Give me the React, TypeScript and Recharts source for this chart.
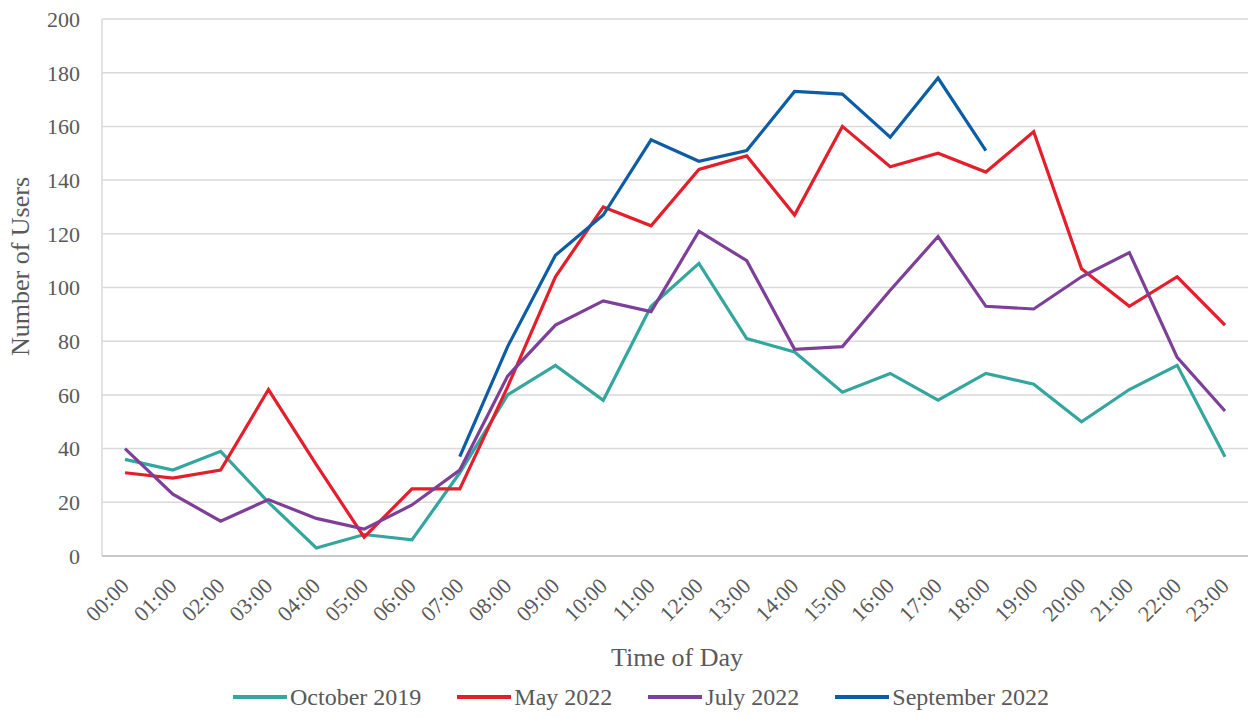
import React from "react";
import { LineChart, Line, XAxis, YAxis, CartesianGrid, Legend } from "recharts";

const hours = [
  "00:00", "01:00", "02:00", "03:00", "04:00", "05:00", "06:00", "07:00",
  "08:00", "09:00", "10:00", "11:00", "12:00", "13:00", "14:00", "15:00",
  "16:00", "17:00", "18:00", "19:00", "20:00", "21:00", "22:00", "23:00",
];

const october2019 = [36, 32, 39, 20, 3, 8, 6, 31, 60, 71, 58, 93, 109, 81, 76, 61, 68, 58, 68, 64, 50, 62, 71, 37];
const may2022 = [31, 29, 32, 62, 34, 7, 25, 25, 63, 104, 130, 123, 144, 149, 127, 160, 145, 150, 143, 158, 107, 93, 104, 86];
const july2022 = [40, 23, 13, 21, 14, 10, 19, 32, 67, 86, 95, 91, 121, 110, 77, 78, 99, 119, 93, 92, 104, 113, 74, 54];
const september2022: (number | null)[] = [
  null, null, null, null, null, null, null, 37, 78, 112, 127, 155, 147, 151, 173, 172, 156, 178, 151,
  null, null, null, null, null,
];

const yTicks = [0, 20, 40, 60, 80, 100, 120, 140, 160, 180, 200];

const series = [
  { key: "oct19", name: "October 2019", color: "#33a69e" },
  { key: "may22", name: "May 2022", color: "#e41e2b" },
  { key: "jul22", name: "July 2022", color: "#7e3f98" },
  { key: "sep22", name: "September 2022", color: "#0c5da5" },
];

const data = hours.map((h, i) => ({
  hour: h,
  oct19: october2019[i],
  may22: may2022[i],
  jul22: july2022[i],
  sep22: september2022[i],
}));

const font = '"Liberation Serif", "Times New Roman", serif';
const textColor = "#595959";

const HourTick = (props: any) => {
  const { x, y, payload } = props;
  return (
    <g transform={`translate(${x},${y + 18})`}>
      <text
        x={0}
        y={0}
        transform="rotate(-45)"
        textAnchor="end"
        dominantBaseline="central"
        fill={textColor}
        fontSize={22}
        fontFamily={font}
      >
        {payload.value}
      </text>
    </g>
  );
};

const LegendRow = () => (
  <div
    style={{
      display: "flex",
      justifyContent: "flex-start",
      alignItems: "center",
      gap: 36,
      height: 26,
      fontFamily: font,
      fontSize: 24,
      color: textColor,
      paddingLeft: 233,
    }}
  >
    {series.map((s) => (
      <div key={s.key} style={{ display: "flex", alignItems: "center" }}>
        <span
          style={{
            display: "inline-block",
            width: 54,
            height: 4,
            background: s.color,
            marginRight: 3,
          }}
        />
        {s.name}
      </div>
    ))}
  </div>
);

const YTitle = (props: any) => {
  const cy = props.viewBox ? props.viewBox.y + props.viewBox.height / 2 - 21 : 266;
  return (
    <text
      x={20}
      y={cy}
      transform={`rotate(-90, 20, ${cy})`}
      textAnchor="middle"
      dominantBaseline="central"
      fill={textColor}
      fontSize={26}
      fontFamily={font}
    >
      Number of Users
    </text>
  );
};

const XTitle = (props: any) => {
  const vb = props.viewBox || { x: 102, y: 556, width: 1146 };
  const cx = vb.x + vb.width / 2 + 2;
  return (
    <text
      x={cx}
      y={vb.y + 101}
      textAnchor="middle"
      dominantBaseline="central"
      fill={textColor}
      fontSize={26}
      fontFamily={font}
    >
      Time of Day
    </text>
  );
};

export default function App() {
  return (
    <div style={{ position: "absolute", left: 0, top: 0, width: 1253, height: 718, background: "#fff" }}>
      <LineChart width={1253} height={718} data={data} margin={{ top: 19, right: 5, left: 0, bottom: 0 }}>
        <CartesianGrid vertical={false} stroke="#d9d9d9" strokeWidth={1.5} />
        <XAxis
          dataKey="hour"
          interval={0}
          height={162}
          padding={{ left: 23, right: 23 }}
          tick={<HourTick />}
          tickLine={false}
          axisLine={{ stroke: "#bfbfbf", strokeWidth: 1.5 }}
          label={<XTitle />}
        />
        <YAxis
          width={102}
          domain={[0, 200]}
          ticks={yTicks}
          interval={0}
          tickLine={false}
          axisLine={{ stroke: "#d9d9d9", strokeWidth: 1.5 }}
          tick={{ fill: textColor, fontSize: 22, fontFamily: font, dx: -14 }}
          label={<YTitle />}
        />
        <Legend
          content={<LegendRow />}
          wrapperStyle={{ position: "absolute", left: 0, top: 684, width: 1253, height: 0, overflow: "visible" }}
        />
        {series.map((s) => (
          <Line
            key={s.key}
            dataKey={s.key}
            name={s.name}
            stroke={s.color}
            strokeWidth={3.2}
            dot={false}
            activeDot={false}
            type="linear"
            isAnimationActive={false}
          />
        ))}
      </LineChart>
    </div>
  );
}
